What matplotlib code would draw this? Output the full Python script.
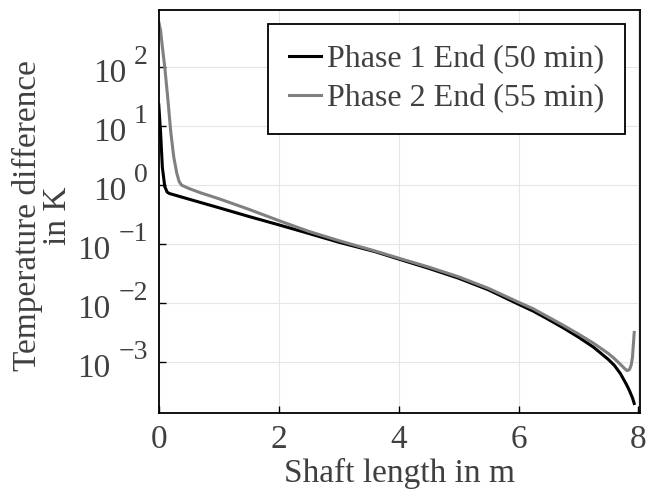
import numpy as np
import matplotlib
matplotlib.use("Agg")
import matplotlib.pyplot as plt
from matplotlib.ticker import FixedLocator, NullFormatter, NullLocator
from matplotlib.transforms import blended_transform_factory, offset_copy

# values
x_phase1 = [0.0, 0.03, 0.06, 0.1, 0.14, 0.18, 0.5, 1.0, 1.5, 2.02, 2.5, 3.0, 3.6,
            4.0, 4.5, 5.0, 5.5, 6.0, 6.25, 6.5, 6.75, 7.0, 7.25, 7.5, 7.6, 7.7,
            7.8, 7.85, 7.9, 7.93]
y_phase1 = [23, 8, 2.0, 0.95, 0.76, 0.72, 0.58, 0.415, 0.295, 0.21, 0.152, 0.108, 0.075,
            0.056, 0.039, 0.0265, 0.0168, 0.0096, 0.0073, 0.0053, 0.0038, 0.00266,
            0.0018, 0.00111, 0.00088, 0.00064, 0.00042, 0.00033, 0.00025, 0.0002]

x_phase2 = [0.0, 0.03, 0.06, 0.1, 0.15, 0.2, 0.25, 0.3, 0.34, 0.38, 0.5, 0.7, 1.0, 1.5,
            2.02, 2.5, 3.0, 3.3, 3.6, 4.0, 4.5, 5.0, 5.5, 6.0, 6.25, 6.5, 6.75, 7.0,
            7.25, 7.5, 7.6, 7.7, 7.77, 7.81, 7.85, 7.88, 7.9, 7.93]
y_phase2 = [580, 420, 220, 100, 30, 8, 3.0, 1.6, 1.15, 1.0, 0.88, 0.74, 0.59, 0.39,
            0.247, 0.165, 0.115, 0.094, 0.077, 0.058, 0.041, 0.028, 0.0178, 0.0104,
            0.008, 0.0058, 0.0042, 0.003, 0.0021, 0.0014, 0.00115, 0.00092, 0.00078,
            0.00072, 0.00075, 0.0009, 0.0012, 0.0032]

labels = ["Phase 1 End (50 min)", "Phase 2 End (55 min)"]
x_ticks = [0, 2, 4, 6, 8]
y_ticks = [1e-3, 1e-2, 1e-1, 1e0, 1e1, 1e2]

plt.rcParams["font.family"] = ["Liberation Serif", "DejaVu Serif"]

text_col = "#404040"
fs = 24

fig = plt.figure(figsize=(6.48, 4.96), dpi=100)
ax = fig.add_axes([0.245, 0.167, 0.743, 0.813])

ax.plot(x_phase1, y_phase1, color="black", lw=2.2, label=labels[0])
ax.plot(x_phase2, y_phase2, color="#808080", lw=2.2, label=labels[1])

ax.set_yscale("log")
ax.set_xlim(0, 8.03)
ax.set_ylim(1.37e-4, 930)

ax.xaxis.set_major_locator(FixedLocator(x_ticks))
ax.yaxis.set_major_locator(FixedLocator(y_ticks))
ax.yaxis.set_minor_locator(NullLocator())
ax.yaxis.set_major_formatter(NullFormatter())

ax.tick_params(direction="in", length=5, width=1, colors="black",
               labelcolor=text_col, labelsize=fs, top=False, right=False)
ax.tick_params(axis="x", pad=8)
ax.grid(True, color="#e6e6e6", lw=0.8)
for s in ax.spines.values():
    s.set_linewidth(1.3)

# y tick labels drawn as "10" plus a large raised exponent
renderer = fig.canvas.get_renderer()
trans = blended_transform_factory(ax.transAxes, ax.transData)
for v in y_ticks:
    e = int(round(np.log10(v)))
    exp_lbl = "\u2212%d" % -e if e < 0 else "%d" % e
    t_exp = ax.text(0, v, exp_lbl, fontsize=20, color=text_col, ha="right",
                    va="baseline",
                    transform=offset_copy(trans, fig=fig, x=-11, y=3, units="dots"))
    w = t_exp.get_window_extent(renderer).width
    ax.text(0, v, "10", fontsize=fs, color=text_col, ha="right", va="baseline",
            transform=offset_copy(trans, fig=fig, x=-11 - w - 8, y=-15, units="dots"))

ax.set_xlabel("Shaft length in m", fontsize=fs, color=text_col, labelpad=2)
ax.set_ylabel("Temperature difference\nin K", fontsize=fs, color=text_col,
              linespacing=1.0, labelpad=0)
ax.yaxis.set_label_coords(-0.178, 0.49)

leg = ax.legend(loc="upper right", fontsize=23, fancybox=False, framealpha=1,
                edgecolor="black", handlelength=1.0, handletextpad=0.2,
                borderpad=0.65, labelspacing=0.3, borderaxespad=0,
                bbox_to_anchor=(0.969, 0.965))
leg.get_frame().set_linewidth(1.3)
for t in leg.get_texts():
    t.set_color(text_col)

fig.savefig("out.png", dpi=100)
